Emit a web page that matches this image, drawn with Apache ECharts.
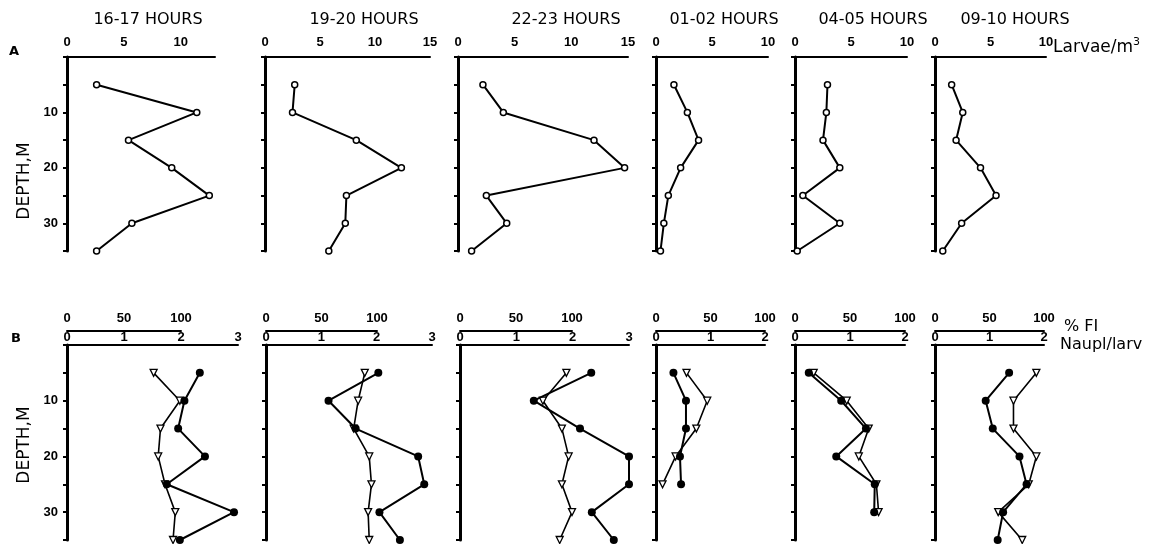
<!DOCTYPE html>
<html>
<head>
<meta charset="utf-8">
<script src="https://cdn.jsdelivr.net/npm/echarts@6/dist/echarts.min.js"></script>
<style>html,body{margin:0;padding:0;background:#fff}#c{width:1169px;height:544px}</style>
</head>
<body>
<div id="c"></div>
<script>
// ---- data ----
const depths = [5, 10, 15, 20, 25, 30, 35];
const hourLabels = ['16-17 HOURS', '19-20 HOURS', '22-23 HOURS', '01-02 HOURS', '04-05 HOURS', '09-10 HOURS'];

// Larvae/m3 (panel A)
const larvae1617 = [2.6, 11.4, 5.4, 9.2, 12.5, 5.7, 2.6];
const larvae1920 = [2.7, 2.5, 8.3, 12.4, 7.4, 7.3, 5.8];
const larvae2223 = [2.2, 4.0, 12.0, 14.7, 2.5, 4.3, 1.2];
const larvae0102 = [1.6, 2.8, 3.8, 2.2, 1.1, 0.7, 0.4];
const larvae0405 = [2.9, 2.8, 2.5, 4.0, 0.7, 4.0, 0.2];
const larvae0910 = [1.5, 2.5, 1.9, 4.1, 5.5, 2.4, 0.7];
const larvaeMax = [13, 15, 15, 10, 10, 10];

// % FI (panel B, open triangles)
const fi1617 = [76, 99, 82, 80, 86, 95, 93];
const fi1920 = [89, 83, 79, 93, 95, 92, 93];
const fi2223 = [95, 74, 91, 97, 91, 100, 89];
const fi0102 = [28, 47, 37, 18, 6, null, null];
const fi0405 = [17, 47, 67, 58, 74, 76, null];
const fi0910 = [93, 72, 72, 93, 86, 58, 80];

// Naupl/larv (panel B, filled circles)
const naupl1617 = [2.33, 2.06, 1.95, 2.42, 1.75, 2.93, 1.98];
const naupl1920 = [2.03, 1.13, 1.62, 2.75, 2.86, 2.05, 2.42];
const naupl2223 = [2.33, 1.31, 2.13, 3.0, 3.0, 2.34, 2.73];
const naupl0102 = [0.32, 0.55, 0.55, 0.44, 0.46, null, null];
const naupl0405 = [0.25, 0.84, 1.29, 0.75, 1.45, 1.44, null];
const naupl0910 = [1.36, 0.93, 1.06, 1.55, 1.68, 1.25, 1.15];
const nauplMax = [3, 3, 3, 2, 2, 2];

const larvaeSets = [larvae1617, larvae1920, larvae2223, larvae0102, larvae0405, larvae0910];
const fiSets = [fi1617, fi1920, fi2223, fi0102, fi0405, fi0910];
const nauplSets = [naupl1617, naupl1920, naupl2223, naupl0102, naupl0405, naupl0910];

// ---- layout (pixels) ----
const topLefts = [67, 265, 458, 656, 795, 935];
const topWidths = [148, 165, 170, 112, 112, 111];
const botLefts = [67, 266, 460, 656, 795, 935];
const botWidths = [171, 166, 169, 109, 110, 109];
const fiWidths = [114, 111, 112, 109, 110, 109];
const titleX = [148, 364, 566, 724, 873, 1015];

const TICKFONT = 'Liberation Sans';
const grids = [], xAxes = [], yAxes = [], series = [];

function pairs(vals) {
  const out = [];
  vals.forEach((v, k) => { if (v !== null && v !== undefined) out.push([v, depths[k]]); });
  return out;
}
function depthAxis(g, showLabels) {
  yAxes.push({
    gridIndex: g, type: 'value', inverse: true, min: 0, max: 35, interval: 5,
    axisLine: { show: true, onZero: false, lineStyle: { color: '#000', width: 3 } },
    axisTick: { show: true, length: 4, lineStyle: { color: '#000', width: 2 } },
    splitLine: { show: false },
    axisLabel: {
      show: showLabels, color: '#000', fontFamily: TICKFONT, fontWeight: 'bold', fontSize: 13, margin: 9,
      formatter: v => (v > 0 && v % 10 === 0) ? String(v) : ''
    }
  });
  return yAxes.length - 1;
}
function hiddenDepthAxis(g) {
  yAxes.push({ gridIndex: g, type: 'value', inverse: true, min: 0, max: 35, show: false });
  return yAxes.length - 1;
}
function topAxis(g, max, interval, offset, margin, showLine) {
  xAxes.push({
    gridIndex: g, type: 'value', position: 'top', min: 0, max: max, interval: interval, offset: offset,
    axisLine: { show: showLine, onZero: false, lineStyle: { color: '#000', width: 2 } },
    axisTick: { show: false }, splitLine: { show: false },
    axisLabel: {
      color: '#000', fontFamily: TICKFONT, fontWeight: 'bold', fontSize: 13, margin: margin,
      formatter: v => (v % interval === 0) ? String(v) : ''
    }
  });
  return xAxes.length - 1;
}

for (let i = 0; i < 6; i++) {
  // Panel A
  grids.push({ left: topLefts[i], top: 57, width: topWidths[i], height: 194 });
  let g = grids.length - 1;
  let xi = topAxis(g, larvaeMax[i], 5, 0, 8, true);
  let yi = depthAxis(g, i === 0);
  series.push({
    type: 'line', xAxisIndex: xi, yAxisIndex: yi, data: pairs(larvaeSets[i]), clip: false,
    symbol: 'circle', symbolSize: 6,
    lineStyle: { color: '#000', width: 2 },
    itemStyle: { color: '#fff', borderColor: '#000', borderWidth: 1.5 }
  });

  // Panel B: Naupl/larv grid
  grids.push({ left: botLefts[i], top: 345, width: botWidths[i], height: 195 });
  g = grids.length - 1;
  xi = topAxis(g, nauplMax[i], 1, 0, 1, true);
  yi = depthAxis(g, i === 0);
  const nxi = xi, nyi = yi;

  // Panel B: %FI grid (narrower, same depth scale)
  grids.push({ left: botLefts[i], top: 345, width: fiWidths[i], height: 195 });
  g = grids.length - 1;
  const fxi = topAxis(g, 100, 50, 14, 6, true);
  const fyi = hiddenDepthAxis(g);

  series.push({
    type: 'line', xAxisIndex: fxi, yAxisIndex: fyi, data: pairs(fiSets[i]), clip: false,
    symbol: 'triangle', symbolRotate: 180, symbolSize: 7,
    lineStyle: { color: '#000', width: 1.6 },
    itemStyle: { color: '#fff', borderColor: '#000', borderWidth: 1.3 }, z: 3
  });
  series.push({
    type: 'line', xAxisIndex: nxi, yAxisIndex: nyi, data: pairs(nauplSets[i]), clip: false,
    symbol: 'circle', symbolSize: 8,
    lineStyle: { color: '#000', width: 2 },
    itemStyle: { color: '#000', borderColor: '#000', borderWidth: 0 }, z: 4
  });
}

const graphics = [];
hourLabels.forEach((t, i) => {
  graphics.push({ type: 'text', x: titleX[i], y: 20, style: { text: t, fill: '#000', font: '16px "DejaVu Sans"', textAlign: 'center', textVerticalAlign: 'middle' } });
});
graphics.push({ type: 'text', x: 14, y: 52, style: { text: 'A', fill: '#000', font: 'bold 13px "DejaVu Sans"', textAlign: 'center', textVerticalAlign: 'middle' } });
graphics.push({ type: 'text', x: 16, y: 339, style: { text: 'B', fill: '#000', font: 'bold 13px "DejaVu Sans"', textAlign: 'center', textVerticalAlign: 'middle' } });
graphics.push({ type: 'text', x: 25, y: 181, rotation: Math.PI / 2, style: { text: 'DEPTH,M', fill: '#000', font: '17px "DejaVu Sans"', textAlign: 'center', textVerticalAlign: 'middle' } });
graphics.push({ type: 'text', x: 25, y: 445, rotation: Math.PI / 2, style: { text: 'DEPTH,M', fill: '#000', font: '17px "DejaVu Sans"', textAlign: 'center', textVerticalAlign: 'middle' } });
graphics.push({ type: 'text', x: 1053, y: 48, style: { rich: { a: { fontSize: 17, fontFamily: 'DejaVu Sans', fill: '#000' }, s: { fontSize: 11, fontFamily: 'DejaVu Sans', fill: '#000', verticalAlign: 'top', padding: [0, 0, 12, 0] } }, text: '{a|Larvae/m}{s|3}', textAlign: 'left', textVerticalAlign: 'middle' } });
graphics.push({ type: 'text', x: 1064, y: 327, style: { text: '% FI', fill: '#000', font: '16px "DejaVu Sans"', textAlign: 'left', textVerticalAlign: 'middle' } });
graphics.push({ type: 'text', x: 1060, y: 345, style: { text: 'Naupl/larv', fill: '#000', font: '16px "DejaVu Sans"', textAlign: 'left', textVerticalAlign: 'middle' } });

const chart = echarts.init(document.getElementById('c'));
chart.setOption({
  backgroundColor: '#fff',
  animation: false,
  grid: grids,
  xAxis: xAxes,
  yAxis: yAxes,
  series: series,
  graphic: graphics
});
</script>
</body>
</html>
